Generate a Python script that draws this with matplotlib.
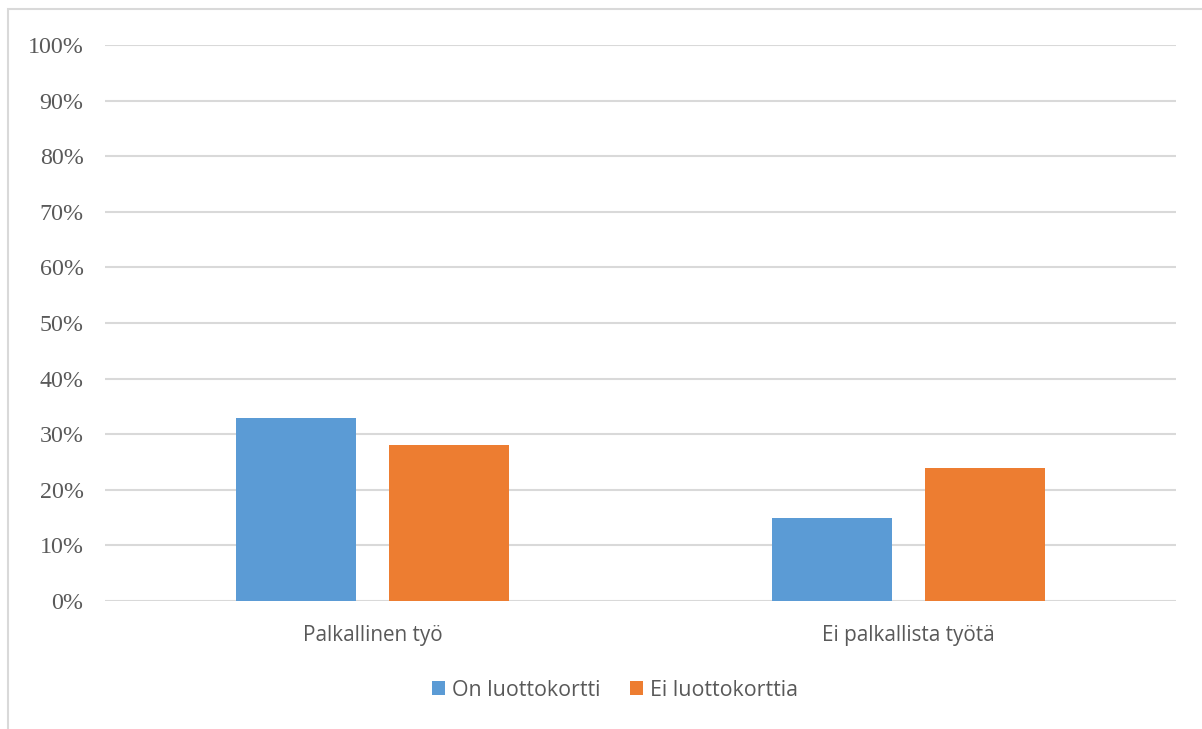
import numpy as np
import matplotlib.pyplot as plt
from matplotlib.patches import Rectangle

# Osuudet ryhmittäin
categories = ["Palkallinen työ", "Ei palkallista työtä"]
on_kortti = [33, 15]
ei_korttia = [28, 24]
series_names = ["On luottokortti", "Ei luottokorttia"]
y_ticks = list(range(0, 101, 10))

blue = "#5b9bd5"
orange = "#ed7d31"
text_col = "#595959"

fig = plt.figure(figsize=(12.02, 7.29), dpi=100)
ax = fig.add_axes([0.0874, 0.1756, 0.8909, 0.7627])

x = np.arange(len(categories))
w = 0.224
off = 0.143
ax.bar(x - off, on_kortti, w, color=blue, label=series_names[0], zorder=3)
ax.bar(x + off, ei_korttia, w, color=orange, label=series_names[1], zorder=3)

ax.set_xlim(-0.5, 1.5)
ax.set_ylim(0, 100)
ax.set_yticks(y_ticks)
ax.set_yticklabels([f"{t}%" for t in y_ticks], family="Liberation Serif",
                   fontsize=17.3, color=text_col)
ax.set_xticks(x)
ax.set_xticklabels(categories, family="Open Sans", fontsize=14.9, color=text_col)
ax.tick_params(axis="y", length=0, pad=15.5)
ax.tick_params(axis="x", length=0, pad=17)
ax.yaxis.grid(True, color="#d9d9d9", linewidth=1.5, zorder=0)
for s in ax.spines.values():
    s.set_visible(False)

# Kehys kaavioalueen ympärillä (oikea ja ala reuna jäävät kuvan ulkopuolelle)
fig.patches.append(Rectangle((8 / 1202, -0.1), 1.2, 1.1 - 9 / 729, transform=fig.transFigure,
                             fill=False, edgecolor="#d9d9d9", linewidth=1.5))

leg = fig.legend(loc="center", bbox_to_anchor=(615 / 1202, 1 - 690 / 729), ncol=2, frameon=False,
                 prop={"family": "Open Sans", "size": 15.4}, handlelength=0.62,
                 handleheight=0.62, handletextpad=0.3, columnspacing=1.4)
for t in leg.get_texts():
    t.set_color(text_col)

fig.savefig("out.png", dpi=100)
